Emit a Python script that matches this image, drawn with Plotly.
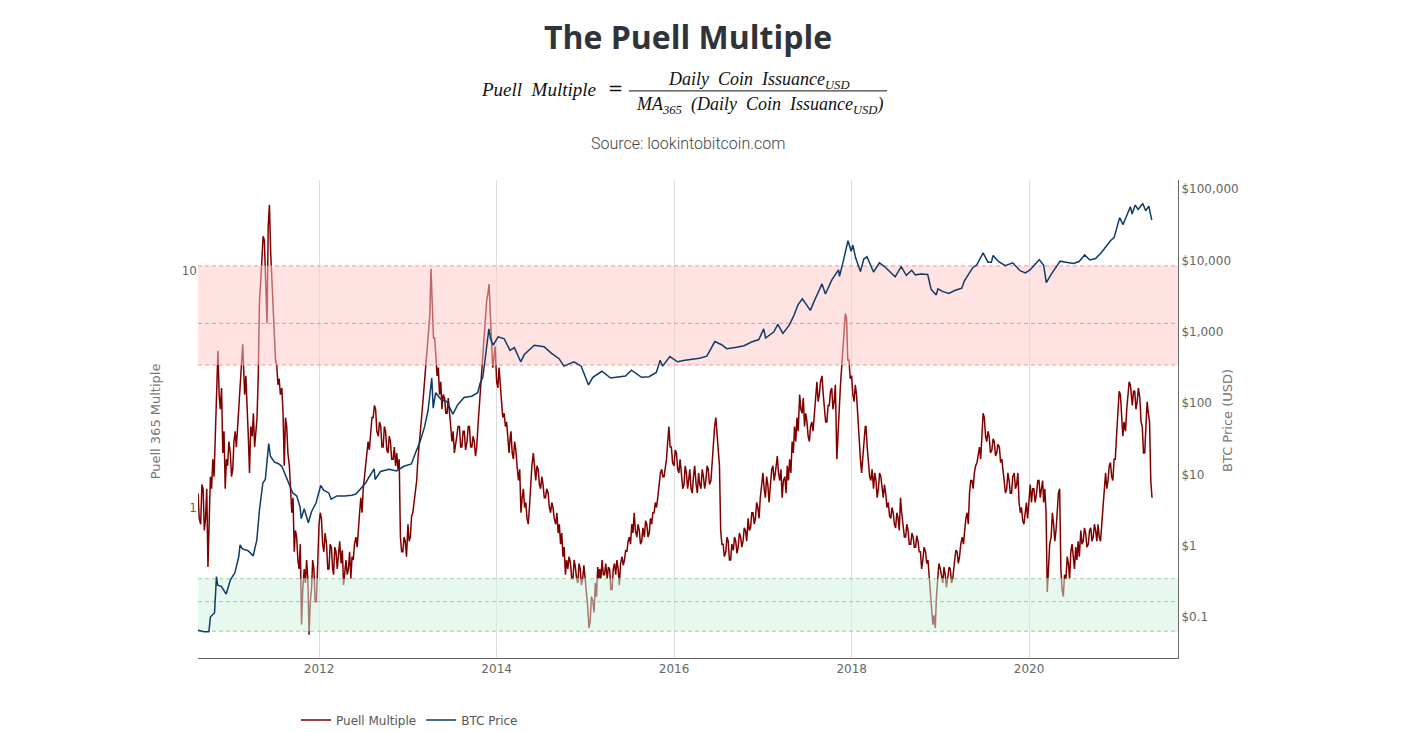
import pandas as pd
import plotly.graph_objects as go

# Puell multiple: six values a month (1st, 6th, 11th, 16th, 21st, 26th),
# following the top and bottom of the noisy band. 2010 starts on Aug 21, 2021 stops on May 21.
puell_2010 = [1.15, 0.9,
              0.85, 1.25, 1.2, 0.8, 0.9, 1.2,
              0.56, 0.9, 1.35, 1.2, 1.6, 1.35,
              2.2, 3.2, 4.6, 3.0, 2.6, 3.2,
              1.7, 2.1, 1.2, 1.6, 1.5, 1.9]
puell_2011 = [1.7, 1.35, 1.45, 1.9, 2.1, 1.8,
              2.3, 2.8, 3.6, 4.3, 4.9, 3.6,
              3.0, 3.6, 2.4, 2.0, 1.4, 2.2,
              2.0, 2.5, 1.8, 2.2, 2.4, 3.6,
              7.5, 9.0, 11, 14, 13.5, 9.0,
              6.0, 15.5, 19.0, 12, 9.0, 6.5,
              5.5, 4.2, 4.0, 3.3, 3.5, 3.0,
              3.2, 2.5, 1.5, 2.4, 2.2, 1.7,
              1.5, 1.2, 0.95, 1.1, 0.65, 0.8,
              0.75, 0.6, 0.55, 0.7, 0.32, 0.45,
              0.55, 0.48, 0.6, 0.5, 0.29, 0.4,
              0.45, 0.6, 0.55, 0.4, 0.4, 0.55]
puell_2012 = [0.85, 0.95, 0.9, 0.7, 0.65, 0.78,
              0.7, 0.55, 0.55, 0.7, 0.68, 0.55,
              0.52, 0.68, 0.65, 0.55, 0.62, 0.72,
              0.58, 0.66, 0.47, 0.55, 0.6, 0.52,
              0.55, 0.65, 0.5, 0.62, 0.6, 0.7,
              0.75, 0.68, 0.85, 0.95, 1.1, 0.95,
              1.2, 1.35, 1.5, 1.7, 1.9, 1.75,
              2.1, 2.4, 2.4, 2.7, 2.6, 2.1,
              2.0, 2.3, 2.2, 1.8, 1.8, 2.2,
              2.1, 1.75, 1.7, 2.0, 1.9, 1.6,
              1.6, 1.8, 1.5, 1.7, 1.45, 1.6,
              0.75, 0.65, 0.65, 0.75, 0.72, 0.62]
puell_2013 = [0.85, 0.72, 0.75, 0.92, 0.95, 1.05,
              1.15, 1.3, 1.6, 1.8, 2.1, 2.4,
              2.6, 3.0, 3.5, 4.2, 5.0, 5.8,
              6.5, 10.2, 7.0, 5.2, 5.2, 4.0,
              3.6, 3.9, 3.0, 3.4, 2.6, 3.0,
              2.9, 2.5, 2.5, 2.9, 2.6, 2.2,
              1.9, 2.1, 1.7, 1.9, 2.0, 2.2,
              2.2, 1.8, 1.8, 2.1, 2.1, 1.75,
              1.9, 2.2, 2.2, 1.8, 1.8, 2.0,
              1.9, 1.65, 1.8, 2.2, 2.8, 3.1,
              3.8, 4.6, 5.5, 6.5, 7.5, 8.0,
              8.8, 6.5, 4.5, 3.9, 4.3, 4.8]
puell_2014 = [3.4, 3.2, 3.9, 3.3, 2.9, 2.4,
              2.5, 2.2, 2.3, 1.9, 1.7, 2.0,
              2.1, 1.7, 1.6, 1.9, 1.75, 1.5,
              1.3, 1.45, 0.95, 1.1, 1.2, 1.0,
              1.05, 0.9, 0.85, 1.0, 1.3, 1.5,
              1.7, 1.4, 1.3, 1.5, 1.45, 1.25,
              1.2, 1.35, 1.25, 1.1, 1.1, 1.2,
              1.15, 1.0, 0.95, 1.05, 1.0, 0.9,
              0.85, 0.95, 0.78, 0.85, 0.7, 0.78,
              0.62, 0.68, 0.52, 0.6, 0.55, 0.62,
              0.58, 0.5, 0.5, 0.6, 0.56, 0.5,
              0.48, 0.58, 0.55, 0.47, 0.5, 0.57]
puell_2015 = [0.5, 0.45, 0.38, 0.31, 0.33, 0.42,
              0.4, 0.36, 0.48, 0.42, 0.56, 0.5,
              0.55, 0.5, 0.6, 0.52, 0.52, 0.58,
              0.5, 0.56, 0.55, 0.45, 0.45, 0.55,
              0.58, 0.52, 0.6, 0.55, 0.47, 0.58,
              0.62, 0.57, 0.6, 0.66, 0.65, 0.72,
              0.75, 0.7, 0.85, 0.78, 0.95, 0.8,
              0.75, 0.85, 0.8, 0.7, 0.72, 0.82,
              0.75, 0.88, 0.85, 0.75, 0.78, 0.9,
              0.85, 0.95, 0.95, 1.05, 1.0, 1.1,
              1.25, 1.4, 1.45, 1.35, 1.35, 1.5,
              1.6, 1.9, 2.2, 1.8, 1.8, 1.55]
puell_2016 = [1.5, 1.75, 1.7, 1.45, 1.4, 1.6,
              1.35, 1.2, 1.25, 1.5, 1.4, 1.2,
              1.3, 1.45, 1.2, 1.15, 1.35, 1.5,
              1.25, 1.15, 1.4, 1.25, 1.2, 1.45,
              1.35, 1.2, 1.3, 1.5, 1.45, 1.25,
              1.3, 1.55, 1.9, 2.2, 2.4, 2.0,
              1.8, 1.5, 0.8, 0.7, 0.7, 0.62,
              0.65, 0.75, 0.72, 0.6, 0.6, 0.7,
              0.66, 0.75, 0.72, 0.64, 0.68, 0.78,
              0.75, 0.68, 0.72, 0.82, 0.8, 0.72,
              0.9, 0.8, 0.82, 0.95, 0.95, 0.85,
              0.9, 1.05, 1.0, 0.9, 1.1, 1.25]
puell_2017 = [1.4, 1.2, 1.1, 1.35, 1.25, 1.05,
              1.3, 1.45, 1.5, 1.3, 1.4, 1.6,
              1.65, 1.4, 1.3, 1.45, 1.1, 1.3,
              1.35, 1.15, 1.5, 1.3, 1.6, 1.4,
              1.9, 1.7, 2.2, 1.9, 2.4, 2.1,
              3.0, 2.6, 2.5, 2.9, 2.2, 2.5,
              2.3, 2.0, 1.9, 2.2, 2.3, 2.1,
              2.6, 3.0, 3.4, 2.8, 3.0, 3.4,
              3.6, 3.0, 2.6, 2.3, 2.3, 2.7,
              2.7, 3.1, 3.2, 2.6, 2.8, 3.3,
              1.6, 2.2, 2.6, 3.3, 4.0, 4.6,
              5.5, 6.6, 6.3, 4.2, 4.2, 3.5]
puell_2018 = [3.6, 3.0, 2.8, 3.3, 3.0, 2.4,
              2.0, 1.6, 1.4, 1.7, 1.9, 2.2,
              2.2, 1.8, 1.5, 1.35, 1.3, 1.45,
              1.2, 1.4, 1.3, 1.1, 1.2, 1.4,
              1.35, 1.2, 1.1, 1.25, 1.15, 1.0,
              1.05, 0.92, 0.9, 1.0, 0.95, 0.85,
              0.82, 0.95, 0.9, 0.8, 1.1, 0.95,
              0.85, 0.75, 0.75, 0.85, 0.8, 0.7,
              0.7, 0.78, 0.75, 0.68, 0.68, 0.76,
              0.72, 0.65, 0.65, 0.55, 0.6, 0.68,
              0.65, 0.58, 0.6, 0.52, 0.45, 0.38,
              0.32, 0.35, 0.31, 0.42, 0.5, 0.58]
puell_2019 = [0.55, 0.5, 0.48, 0.56, 0.52, 0.46,
              0.5, 0.56, 0.55, 0.48, 0.5, 0.58,
              0.6, 0.66, 0.65, 0.58, 0.62, 0.7,
              0.75, 0.7, 0.8, 0.9, 0.95, 0.85,
              1.15, 1.3, 1.3, 1.2, 1.4, 1.5,
              1.55, 1.7, 1.8, 1.6, 2.2, 2.5,
              2.4, 2.0, 1.9, 2.1, 2.0, 1.7,
              1.75, 1.95, 1.9, 1.65, 1.7, 1.85,
              1.8, 1.55, 1.6, 1.4, 1.3, 1.15,
              1.2, 1.4, 1.3, 1.15, 1.15, 1.35,
              1.4, 1.2, 1.25, 1.4, 1.05, 0.95,
              1.0, 0.88, 0.85, 0.95, 1.05, 0.9]
puell_2020 = [1.1, 1.25, 1.05, 1.2, 1.2, 1.05,
              1.15, 1.3, 1.3, 1.1, 1.2, 1.3,
              1.05, 1.2, 0.95, 0.44, 0.55, 0.7,
              0.75, 0.95, 0.85, 0.72, 0.8, 0.95,
              1.15, 1.2, 0.55, 0.45, 0.42, 0.52,
              0.5, 0.62, 0.58, 0.5, 0.65, 0.7,
              0.62, 0.55, 0.68, 0.6, 0.72, 0.62,
              0.8, 0.7, 0.72, 0.82, 0.78, 0.68,
              0.7, 0.8, 0.82, 0.72, 0.75, 0.85,
              0.8, 0.72, 0.85, 0.75, 0.72, 0.85,
              1.0, 1.25, 1.4, 1.2, 1.3, 1.5,
              1.55, 1.35, 1.3, 1.6, 1.6, 2.0]
puell_2021 = [2.6, 3.1, 3.0, 2.4, 2.0, 2.3,
              2.1, 2.6, 2.9, 3.4, 3.3, 2.7,
              2.7, 3.1, 3.1, 2.6, 2.8, 3.2,
              2.9, 2.3, 2.2, 1.7, 1.7, 2.2,
              2.8, 2.5, 2.3, 1.3, 1.1]

# BTC price (USD)
btc_dates = [
    "2010-08-21", "2010-09-15", "2010-10-05", "2010-10-11", "2010-10-28", "2010-11-05",
    "2010-11-10", "2010-11-25", "2010-12-15", "2011-01-01", "2011-01-20", "2011-02-05",
    "2011-02-10", "2011-02-20", "2011-03-15", "2011-04-05", "2011-04-20", "2011-05-01",
    "2011-05-15", "2011-05-25", "2011-06-08", "2011-06-15", "2011-07-01", "2011-07-20",
    "2011-08-01", "2011-08-15", "2011-08-25", "2011-09-05", "2011-09-15", "2011-10-01",
    "2011-10-15", "2011-10-20", "2011-11-01", "2011-11-18", "2011-12-01", "2011-12-20",
    "2012-01-08", "2012-01-20", "2012-02-10", "2012-02-20", "2012-03-15", "2012-04-15",
    "2012-05-15", "2012-06-01", "2012-06-20", "2012-07-10", "2012-07-25", "2012-08-15",
    "2012-08-19", "2012-09-10", "2012-10-15", "2012-11-15", "2012-12-15", "2013-01-15",
    "2013-02-01", "2013-02-20", "2013-03-10", "2013-03-25", "2013-04-09", "2013-04-15",
    "2013-04-25", "2013-05-15", "2013-06-10", "2013-07-05", "2013-07-25", "2013-08-20",
    "2013-09-20", "2013-10-15", "2013-10-25", "2013-11-05", "2013-11-12", "2013-11-19",
    "2013-11-30", "2013-12-07", "2013-12-18", "2014-01-07", "2014-02-01", "2014-02-25",
    "2014-03-15", "2014-04-10", "2014-04-25", "2014-06-05", "2014-07-15", "2014-08-15",
    "2014-09-15", "2014-10-05", "2014-11-15", "2014-12-15", "2015-01-14", "2015-02-01",
    "2015-03-10", "2015-04-15", "2015-05-20", "2015-06-15", "2015-07-10", "2015-08-20",
    "2015-09-20", "2015-10-20", "2015-11-05", "2015-11-15", "2015-12-15", "2016-01-15",
    "2016-02-15", "2016-03-15", "2016-04-15", "2016-05-15", "2016-06-17", "2016-07-15",
    "2016-08-05", "2016-09-15", "2016-10-15", "2016-11-15", "2016-12-15", "2017-01-04",
    "2017-01-12", "2017-02-15", "2017-03-03", "2017-03-24", "2017-04-20", "2017-05-10",
    "2017-05-25", "2017-06-12", "2017-07-15", "2017-08-01", "2017-09-01", "2017-09-15",
    "2017-10-12", "2017-11-08", "2017-11-12", "2017-11-28", "2017-12-17", "2017-12-30",
    "2018-01-06", "2018-01-17", "2018-02-06", "2018-02-20", "2018-03-05", "2018-04-01",
    "2018-04-25", "2018-05-15", "2018-06-10", "2018-06-29", "2018-07-24", "2018-08-14",
    "2018-09-05", "2018-09-20", "2018-10-15", "2018-11-10", "2018-11-20", "2018-11-25",
    "2018-12-15", "2018-12-22", "2019-01-10", "2019-02-05", "2019-03-01", "2019-03-30",
    "2019-04-10", "2019-05-15", "2019-05-30", "2019-06-26", "2019-07-16", "2019-07-30",
    "2019-08-06", "2019-08-28", "2019-09-25", "2019-10-26", "2019-11-25", "2019-12-17",
    "2020-01-05", "2020-02-12", "2020-03-01", "2020-03-12", "2020-04-01", "2020-05-08",
    "2020-06-01", "2020-07-01", "2020-07-25", "2020-08-17", "2020-09-07", "2020-10-01",
    "2020-10-25", "2020-11-15", "2020-12-01", "2020-12-16", "2021-01-08", "2021-01-22",
    "2021-02-08", "2021-02-21", "2021-02-28", "2021-03-13", "2021-03-25", "2021-04-13",
    "2021-04-25", "2021-05-08", "2021-05-20",
]
btc_prices = [
    0.065, 0.062, 0.062, 0.10, 0.115, 0.37,
    0.28, 0.27, 0.21, 0.33, 0.42, 0.71,
    1.03, 0.9, 0.85, 0.72, 1.2, 3.2,
    7.6, 8.5, 27, 18, 15, 14,
    13, 10, 8.5, 7, 5.5, 5,
    3.5, 2.4, 3.3, 2.1, 3.0, 4.0,
    7.0, 6.0, 5.5, 4.5, 5, 5,
    5.1, 5.3, 6.3, 7.5, 9.2, 12,
    8.5, 11, 11.8, 11.2, 13, 14,
    20, 29, 46, 80, 225, 85,
    140, 115, 105, 70, 95, 120,
    125, 140, 190, 230, 350, 550,
    1100, 800, 650, 850, 800, 550,
    600, 380, 480, 650, 620, 500,
    420, 330, 380, 330, 180, 230,
    280, 225, 235, 240, 290, 230,
    235, 270, 400, 330, 450, 380,
    400, 415, 425, 455, 730, 660,
    580, 610, 640, 720, 780, 1100,
    820, 1000, 1270, 950, 1250, 1750,
    2400, 2900, 2000, 2750, 4700, 3400,
    5400, 7400, 6000, 10000, 19000, 13500,
    16500, 11000, 7000, 10500, 11300, 6900,
    9300, 8300, 6700, 5900, 8200, 6200,
    7300, 6300, 6500, 6400, 4500, 3900,
    3300, 4000, 3700, 3450, 3800, 4100,
    5200, 8000, 8600, 12800, 9500, 9500,
    11800, 9700, 8500, 9300, 7200, 6700,
    7400, 10300, 8600, 4900, 6400, 9800,
    9500, 9100, 9700, 12000, 10200, 10700,
    13000, 16000, 19000, 21000, 40000, 32000,
    46000, 57000, 45000, 60000, 52000, 63000,
    50000, 58000, 37000,
]

# zone levels on the Puell axis
red_levels = [4, 6, 10.5]
green_levels = [0.3, 0.4, 0.5]

x_range = ["2010-08-21", "2021-09-05"]

# build the Puell dates (six per month)
puell_values = (puell_2010 + puell_2011 + puell_2012 + puell_2013 + puell_2014 + puell_2015
                + puell_2016 + puell_2017 + puell_2018 + puell_2019 + puell_2020 + puell_2021)
puell_dates = [pd.Timestamp("2010-08-21"), pd.Timestamp("2010-08-26")]
for month in pd.date_range("2010-09-01", "2021-05-01", freq="MS"):
    for day in (1, 6, 11, 16, 21, 26):
        puell_dates.append(month.replace(day=day))
puell_dates = puell_dates[:len(puell_values)]

fig = go.Figure()

fig.add_trace(go.Scatter(
    x=puell_dates, y=puell_values, mode="lines", name="Puell Multiple",
    line=dict(color="#800000", width=1.5),
))


def add_zone(levels, fill, dash_color):
    lo, mid, hi = levels
    fig.add_trace(go.Scatter(
        x=[x_range[0], x_range[1], x_range[1], x_range[0], x_range[0]],
        y=[lo, lo, hi, hi, lo], mode="lines", fill="toself", fillcolor=fill,
        line=dict(width=0), showlegend=False, hoverinfo="skip",
    ))
    for level in levels:
        fig.add_trace(go.Scatter(
            x=x_range, y=[level, level], mode="lines", showlegend=False, hoverinfo="skip",
            line=dict(color=dash_color, width=1, dash="4px,3px"),
        ))


add_zone(red_levels, "rgba(255,200,200,0.5)", "rgba(255,120,120,0.8)")
add_zone(green_levels, "rgba(208,242,224,0.5)", "rgba(130,200,130,0.8)")

fig.add_trace(go.Scatter(
    x=btc_dates, y=btc_prices, mode="lines", name="BTC Price", yaxis="y2",
    line=dict(color="#0f3b66", width=1.5),
))

tick_font = dict(family="DejaVu Sans", size=12, color="#666666")
btc_ticks = [0.1, 1, 10, 100, 1000, 10000, 100000]

# the page puts the chart 8px in from the top-left corner, so the figure is 8px smaller
fig.update_layout(
    width=1394, height=724,
    margin=dict(l=190, r=224, t=172, b=74),
    paper_bgcolor="white", plot_bgcolor="white",
    title=dict(text="<b>The Puell Multiple</b>", xref="paper", x=0.5, xanchor="center",
               y=0.9586, yanchor="middle",
               font=dict(family="Open Sans", size=32, color="#2f343b")),
    xaxis=dict(range=x_range, type="date", showgrid=True, gridcolor="#dddddd",
               dtick="M24", tick0="2012-01-01", tickformat="%Y",
               showline=True, linecolor="#666666", linewidth=1,
               ticks="", tickfont=tick_font, zeroline=False),
    yaxis=dict(type="log", range=[-0.636, 1.384], tickvals=[1, 10], ticktext=["1", "10"],
               showgrid=False, zeroline=False, showline=False, tickfont=tick_font),
    yaxis2=dict(type="log", range=[-1.575, 5.13], overlaying="y", side="right",
                tickvals=btc_ticks, ticktext=["$0.1", "$1", "$10", "$100", "$1,000",
                                              "$10,000", "$100,000"],
                showgrid=False, zeroline=False, showline=True, linecolor="#666666",
                linewidth=1, tickfont=tick_font),
    legend=dict(orientation="h", x=0.100, xanchor="left", yref="container", y=0.0166,
                yanchor="middle", font=dict(family="DejaVu Sans", size=12, color="#555555")),
    showlegend=True,
)

# formula and source under the title
formula_font = dict(family="Liberation Serif", size=18, color="#111111")
fig.add_annotation(text="<i>Puell  Multiple</i>", x=0.4082, y=1.1885, xref="paper",
                   yref="paper", xanchor="right", yanchor="middle", showarrow=False,
                   font=dict(family="Liberation Serif", size=19, color="#111111"))
fig.add_annotation(text="=", x=0.4260, y=1.1905, xref="paper", yref="paper",
                   xanchor="center", yanchor="middle", showarrow=False,
                   font=dict(family="DejaVu Serif", size=18, color="#111111"))
fig.add_annotation(text="<i>Daily  Coin  Issuance<sub>USD</sub></i>", x=0.5724, y=1.2073,
                   xref="paper", yref="paper", xanchor="center", yanchor="middle",
                   showarrow=False, font=formula_font)
fig.add_annotation(text="<i>MA<sub>365</sub>  (Daily  Coin  Issuance<sub>USD</sub>)</i>",
                   x=0.5730, y=1.1550, xref="paper", yref="paper", xanchor="center",
                   yanchor="middle", showarrow=False, font=formula_font)
fig.add_shape(type="line", xref="paper", yref="paper", x0=0.4398, x1=0.7030,
              y0=1.1864, y1=1.1864, line=dict(color="#111111", width=1))
fig.add_annotation(text="Source: lookintobitcoin.com", x=0.4995, y=1.0774, xref="paper",
                   yref="paper", xanchor="center", yanchor="middle", showarrow=False,
                   font=dict(family="Roboto", size=16, color="#444444", weight=300))

# axis titles
fig.add_annotation(text="Puell 365 Multiple", x=-0.0439, y=0.495, xref="paper", yref="paper",
                   textangle=-90, showarrow=False, xanchor="center", yanchor="middle",
                   font=dict(family="DejaVu Sans", size=13, color="#777777"))
fig.add_annotation(text="BTC Price (USD)", x=1.051, y=0.498, xref="paper", yref="paper",
                   textangle=-90, showarrow=False, xanchor="center", yanchor="middle",
                   font=dict(family="DejaVu Sans", size=13, color="#777777"))

fig.write_html("out.html")
